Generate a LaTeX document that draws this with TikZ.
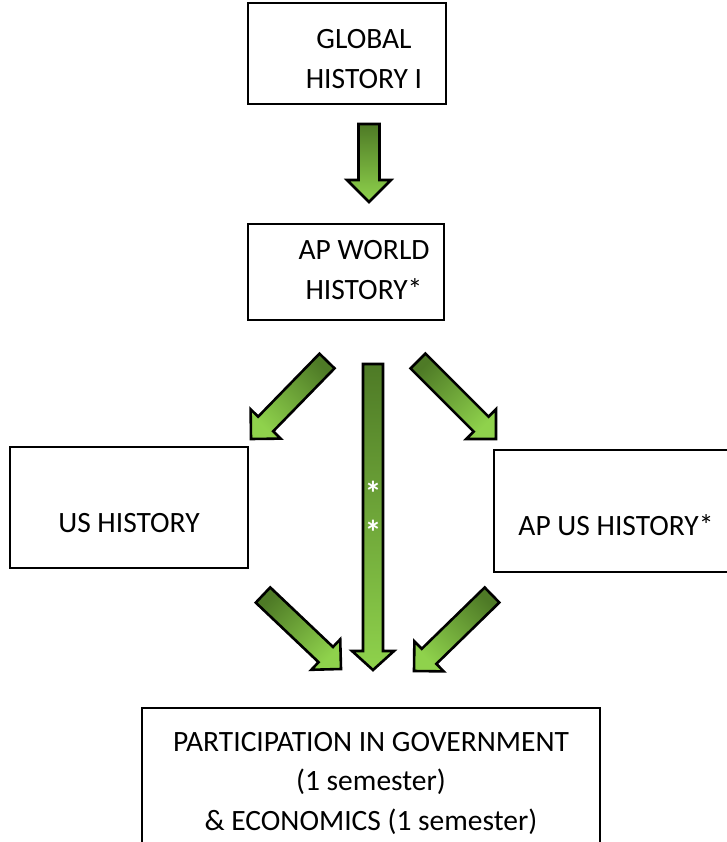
\documentclass[tikz,border=0pt]{standalone}
\usepackage{fontspec}
\setmainfont{Carlito}
\usetikzlibrary{calc}
\definecolor{gdark}{HTML}{4E7A26}
\definecolor{glight}{HTML}{8FD24C}
\tikzset{
  boxshape/.style={draw=black, line width=2pt, inner sep=0pt, fill=white},
  boxtext/.style={inner sep=0pt, align=center, font=\fontsize{29.5}{39.5}\selectfont},
  startext/.style={inner sep=0pt, text=white, font=\bfseries\fontsize{34}{34}\selectfont, anchor=base},
  blockarrow/.style={draw=black, line width=2.6pt, line join=miter, top color=gdark, bottom color=glight}
}
% #1 name prefix, #2 tail, #3 tip, #4 shaft half width, #5 head half width, #6 head length, #7 shading angle
\newcommand\myblockarrow[7]{%
  \coordinate (#1H) at ($(#3)!#6!(#2)$);
  \path[blockarrow, shading angle=#7]
    ($(#2)!#4!90:(#3)$) -- ($(#1H)!#4!90:(#3)$) -- ($(#1H)!#5!90:(#3)$) -- (#3)
    -- ($(#1H)!#5!-90:(#3)$) -- ($(#1H)!#4!-90:(#3)$) -- ($(#2)!#4!-90:(#3)$) -- cycle;
}
\begin{document}
\begin{tikzpicture}[x=1pt,y=-1pt]
\useasboundingbox (0,0) rectangle (727,842);
\clip (0,0) rectangle (727,842);
% boxes
\node[boxshape, minimum width=198pt, minimum height=101pt] (b1) at (347,53.5) {};
\node[boxshape, minimum width=196pt, minimum height=96pt] (b2) at (346,272) {};
\node[boxshape, minimum width=238pt, minimum height=121pt] (b3) at (129,507.5) {};
\node[boxshape, minimum width=246pt, minimum height=122pt] (b4) at (617,511) {};
\node[boxshape, minimum width=458pt, minimum height=173pt] (b5) at (371,794.5) {};
% texts
\node[boxtext] (t1) at (364,59) {GLOBAL\\HISTORY I};
\node[boxtext] (t2) at (364,270) {AP WORLD\\HISTORY*};
\node[boxtext] (t3) at (129,523) {US HISTORY};
\node[boxtext] (t4) at (616,525) {AP US HISTORY*};
\node[boxtext] (t5) at (371,783) {PARTICIPATION IN GOVERNMENT\\(1 semester)\\\&~ECONOMICS (1 semester)};
% arrow end points
\coordinate (a1t) at (369,124); \coordinate (a1h) at (369,202);
\coordinate (a2t) at (327,361); \coordinate (a2h) at (251,439);
\coordinate (a3t) at (373,364); \coordinate (a3h) at (373,670);
\coordinate (a4t) at (418,361); \coordinate (a4h) at (496,439);
\coordinate (a5t) at (263,595); \coordinate (a5h) at (341,669);
\coordinate (a6t) at (492,595); \coordinate (a6h) at (414,671);
% arrows
\myblockarrow{a1}{a1t}{a1h}{10.5pt}{22pt}{22pt}{0}
\myblockarrow{a2}{a2t}{a2h}{10.5pt}{21pt}{21pt}{-45}
\myblockarrow{a3}{a3t}{a3h}{10pt}{21pt}{19pt}{0}
\myblockarrow{a4}{a4t}{a4h}{10.5pt}{21pt}{21pt}{45}
\myblockarrow{a5}{a5t}{a5h}{10.5pt}{21pt}{21pt}{45}
\myblockarrow{a6}{a6t}{a6h}{10.5pt}{21pt}{21pt}{-45}
% asterisks on the long arrow
\node[startext] (s1) at (373,505) {*};
\node[startext] (s2) at (373,544) {*};
\end{tikzpicture}
\end{document}
